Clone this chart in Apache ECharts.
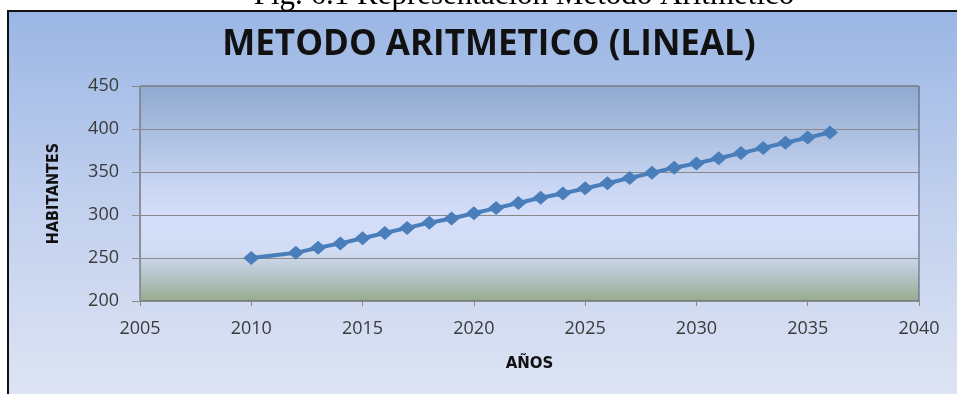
<!DOCTYPE html>
<html>
<head>
<meta charset="utf-8">
<script src="https://cdn.jsdelivr.net/npm/echarts@6/dist/echarts.min.js"></script>
<style>
  html, body { margin: 0; padding: 0; background: #ffffff; }
  #chart { width: 957px; height: 394px; }
</style>
</head>
<body>
<div id="chart"></div>
<script>
// Proyección de población por el método aritmético
const years = [2010, 2012, 2013, 2014, 2015, 2016, 2017, 2018, 2019, 2020, 2021, 2022, 2023,
               2024, 2025, 2026, 2027, 2028, 2029, 2030, 2031, 2032, 2033, 2034, 2035, 2036];
const habitantes = [250, 256, 262, 267, 273, 279, 285, 291, 296, 302, 308, 314, 320,
                    325, 331, 337, 343, 349, 355, 360, 366, 372, 378, 384, 390, 396];

const captionText = 'Fig. 6.1 Representación Método Aritmético';
const titleText = 'METODO ARITMETICO (LINEAL)';
const xAxisName = 'AÑOS';
const yAxisName = 'HABITANTES';

const seriesData = years.map((y, i) => [y, habitantes[i]]);

const chart = echarts.init(document.getElementById('chart'), null, { renderer: 'canvas' });

const tickFont = { fontFamily: "'Open Sans', sans-serif", fontSize: 18, color: '#3a3a3a' };

chart.setOption({
  animation: false,
  backgroundColor: '#ffffff',
  graphic: [
    {
      type: 'rect', z: -10, silent: true,
      shape: { x: 8, y: 11, width: 970, height: 400 },
      style: {
        fill: new echarts.graphic.LinearGradient(0, 0, 0, 1, [
          { offset: 0, color: '#9ab6e4' },
          { offset: 0.5, color: '#c3d1ee' },
          { offset: 1, color: '#dfe5f4' }
        ]),
        stroke: '#111111', lineWidth: 2
      }
    },
    {
      type: 'text', silent: true, z: 20,
      style: {
        text: captionText, x: 524, y: 11,
        textAlign: 'center', textVerticalAlign: 'bottom',
        fontFamily: "'Liberation Serif', serif", fontSize: 31, fill: '#000000'
      }
    },
    {
      type: 'text', silent: true,
      style: {
        text: titleText, x: 489, y: 45,
        textAlign: 'center', textVerticalAlign: 'middle',
        fontFamily: "'Open Sans', sans-serif", fontWeight: 'bold', fontSize: 35, fill: '#111111'
      }
    }
  ],
  grid: {
    left: 140, right: 38, top: 86, bottom: 93,
    show: true,
    borderColor: '#4d5b72', borderWidth: 1,
    backgroundColor: new echarts.graphic.LinearGradient(0, 0, 0, 1, [
      { offset: 0, color: '#8fa9cf' },
      { offset: 0.45, color: '#c8d5f2' },
      { offset: 0.6, color: '#d4defa' },
      { offset: 0.77, color: '#d2dcf4' },
      { offset: 0.87, color: '#b8c5cc' },
      { offset: 1, color: '#97ab8e' }
    ])
  },
  xAxis: {
    type: 'value', min: 2005, max: 2040, interval: 5,
    name: xAxisName, nameLocation: 'middle', nameGap: 56,
    nameTextStyle: { fontFamily: "'DejaVu Sans', sans-serif", fontWeight: 'bold', fontSize: 15, color: '#111111' },
    axisLine: { show: true, lineStyle: { color: '#8a8a8a', width: 1 } },
    axisTick: { show: true, length: 5, lineStyle: { color: '#8a8a8a' } },
    axisLabel: Object.assign({ margin: 19, formatter: v => String(v) }, tickFont),
    splitLine: { show: false }
  },
  yAxis: {
    type: 'value', min: 200, max: 450, interval: 50,
    name: yAxisName, nameLocation: 'middle', nameGap: 78, nameRotate: 90,
    nameTextStyle: { fontFamily: "'DejaVu Sans Condensed', 'DejaVu Sans', sans-serif", fontWeight: 'bold', fontSize: 16, color: '#111111' },
    axisLine: { show: true, lineStyle: { color: '#8a8a8a', width: 1 } },
    axisTick: { show: true, length: 8, lineStyle: { color: '#8a8a8a' } },
    axisLabel: Object.assign({ margin: 21, formatter: v => String(v) }, tickFont),
    splitLine: { show: true, lineStyle: { color: '#888888', width: 1 } }
  },
  series: [{
    type: 'line',
    data: seriesData,
    symbol: 'diamond',
    symbolSize: [16, 14],
    lineStyle: { color: '#4a7ebb', width: 4 },
    itemStyle: { color: '#4a7ebb' },
    z: 5
  }]
});
</script>
</body>
</html>
